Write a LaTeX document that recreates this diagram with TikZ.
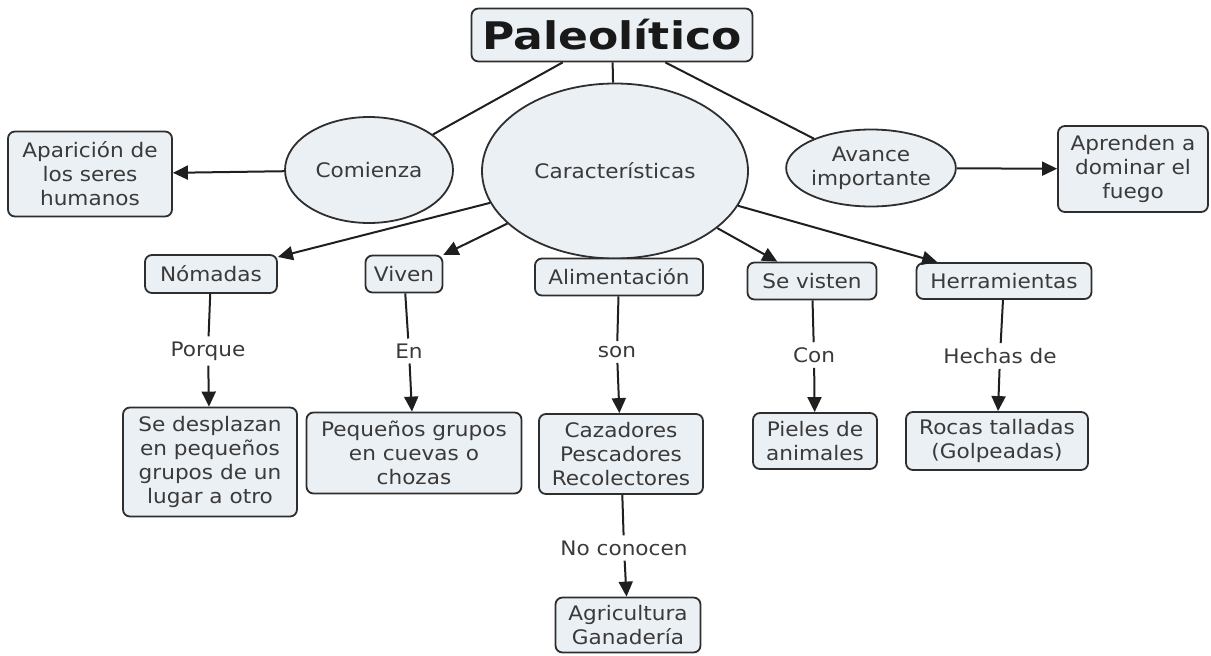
\documentclass[tikz,border=0pt]{standalone}
\usepackage{fontspec}
\setmainfont{DejaVu Sans}[FakeStretch=1.08]
\newfontfamily\titlefont{DejaVu Sans}[FakeStretch=1.16]
\usetikzlibrary{shapes.geometric,arrows.meta}

\definecolor{boxfill}{HTML}{EBF0F4}
\definecolor{boxline}{HTML}{2E2E2E}
\definecolor{txt}{HTML}{3A3A3A}

\tikzset{
  concept/.style={draw=boxline, line width=1.8pt, fill=boxfill, rounded corners=7pt,
    align=center, text=txt, font=\fontsize{20}{24}\selectfont, inner sep=2pt},
  bubble/.style={ellipse, draw=boxline, line width=1.8pt, fill=boxfill,
    align=center, text=txt, font=\fontsize{20}{24}\selectfont, inner sep=0pt},
  linkword/.style={text=txt, font=\fontsize{20}{24}\selectfont, inner sep=5pt},
  link/.style={draw=black!88, line width=2pt},
  tolink/.style={link, -{Triangle[length=15pt,width=14pt]}},
}

\begin{document}
\begin{tikzpicture}[x=1pt, y=-1pt]
			%%%%% START %%%%%
			\useasboundingbox (0, 0) rectangle (1211, 656);
			
			% top and the three bubbles
			\node[concept, minimum width=281, minimum height=53, font=\titlefont\bfseries\fontsize{38}{40}\selectfont, text=black!90] (paleo) at (612, 35) {Paleolítico};
			
			\node[bubble, minimum width=168, minimum height=106] (comienza) at (369, 170) {Comienza};
			\node[bubble, minimum width=266, minimum height=175] (caract) at (615, 171) {Características};
			\node[bubble, minimum width=157, minimum height=77] (avance) at (871, 168) {Avance\\importante};
			
			\node[concept, minimum width=164, minimum height=85] (aparicion) at (90, 174) {Aparición de\\los seres\\humanos};
			\node[concept, minimum width=150, minimum height=86] (aprenden) at (1133, 169) {Aprenden a\\dominar el\\fuego};
			
			% second row
			\node[concept, minimum width=132, minimum height=38] (nomadas) at (211, 274) {Nómadas};
			\node[concept, minimum width=77, minimum height=37] (viven) at (404, 274) {Viven};
			\node[concept, minimum width=168, minimum height=37] (aliment) at (619, 277) {Alimentación};
			\node[concept, minimum width=129, minimum height=37] (visten) at (812, 281) {Se visten};
			\node[concept, minimum width=175, minimum height=36] (herram) at (1004, 281) {Herramientas};
			
			% linking words
			\node[linkword] (porque) at (208, 351) {Porque};
			\node[linkword] (en) at (409, 351) {En};
			\node[linkword] (son) at (617, 352) {son};
			\node[linkword] (con) at (814, 355) {Con};
			\node[linkword] (hechas) at (1000, 356) {Hechas de};
			\node[linkword] (noconocen) at (624, 548) {No conocen};
			
			% third row
			\node[concept, minimum width=174, minimum height=109] (desplazan) at (210, 462) {Se desplazan\\en pequeños\\grupos de un\\lugar a otro};
			\node[concept, minimum width=215, minimum height=81] (pequenos) at (414, 453) {Pequeños grupos\\en cuevas o\\chozas};
			\node[concept, minimum width=164, minimum height=80] (cazadores) at (621, 454) {Cazadores\\Pescadores\\Recolectores};
			\node[concept, minimum width=124, minimum height=56] (pieles) at (815, 441) {Pieles de\\animales};
			\node[concept, minimum width=182, minimum height=58] (rocas) at (997, 441) {Rocas talladas\\(Golpeadas)};
			
			\node[concept, minimum width=145, minimum height=55] (agricult) at (628, 625) {Agricultura\\Ganadería};
			
			% connectors
			\draw[link] (paleo) -- (comienza);
			\draw[link] (paleo) -- (caract);
			\draw[link] (paleo) -- (avance);
			\draw[tolink] (comienza) -- (aparicion);
			\draw[tolink] (avance) -- (aprenden);
			
			\draw[tolink] (caract) -- (nomadas);
			\draw[tolink] (caract) -- (viven);
			\draw[tolink] (caract) -- (visten);
			\draw[tolink] (caract) -- (herram);
			
			\draw[link] (nomadas) -- (porque);
			\draw[tolink] (porque) -- (desplazan);
			\draw[link] (viven) -- (en);
			\draw[tolink] (en) -- (pequenos);
			\draw[link] (aliment) -- (son);
			\draw[tolink] (son) -- (cazadores);
			\draw[link] (visten) -- (con);
			\draw[tolink] (con) -- (pieles);
			\draw[link] (herram) -- (hechas);
			\draw[tolink] (hechas) -- (rocas);
			\draw[link] (cazadores) -- (noconocen);
			\draw[tolink] (noconocen) -- (agricult);
			
			%%%%% END %%%%%
\end{tikzpicture}
\end{document}
